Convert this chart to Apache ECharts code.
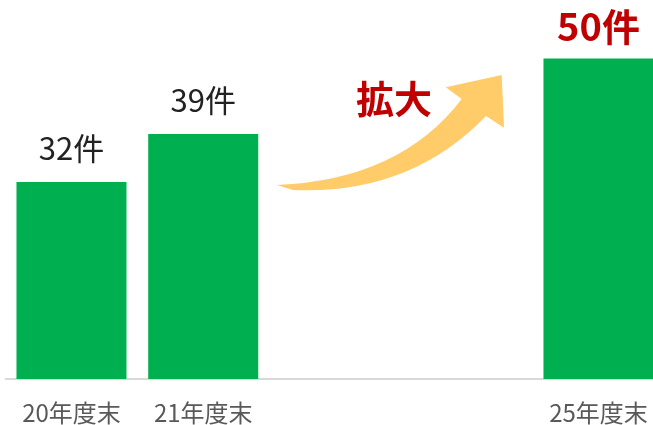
<!DOCTYPE html>
<html>
<head>
<meta charset="utf-8">
<script src="https://cdn.jsdelivr.net/npm/echarts@6/dist/echarts.min.js"></script>
<style>
html,body{margin:0;padding:0;background:#fff;}
#chart{width:653px;height:425px;}
</style>
</head>
<body>
<div id="chart"></div>
<script>
const categories = ['20年度末', '21年度末', '', '', '25年度末'];
const values = [32, 39, null, null, 50];
const labelTexts = ['32件', '39件', '', '', '50件'];
const highlightIndex = 4;
const arrowText = '拡大';

const ArrowShape = echarts.graphic.extendPath(
  'M 276.7 185 Q 400 180 461.7 99 L 445.7 87.3 L 501.7 75 L 504 127.7 L 486 116 Q 410 195 293 190 Z', {}
);
echarts.graphic.registerShape('growthArrow', ArrowShape);

const chart = echarts.init(document.getElementById('chart'), null, {renderer: 'canvas'});

const seriesData = values.map((v, i) => {
  if (v === null) return '-';
  const item = {value: v};
  if (i === highlightIndex) {
    item.label = {color: '#c00000', fontWeight: 'bold', fontSize: 38, distance: 13};
  }
  return item;
});

chart.setOption({
  animation: false,
  backgroundColor: '#ffffff',
  grid: {left: 5.6, top: 58.5, width: 658.75, height: 320.5, containLabel: false, outerBoundsMode: 'none'},
  xAxis: {
    type: 'category',
    data: categories,
    axisLine: {show: true, lineStyle: {color: '#d9d9d9', width: 2}},
    axisTick: {show: false},
    axisLabel: {color: '#595959', fontSize: 24, margin: 22, fontFamily: 'Noto Sans CJK JP', interval: 0}
  },
  yAxis: {
    type: 'value', min: 3.3, max: 50, show: false,
    splitLine: {show: false}
  },
  series: [{
    type: 'bar',
    data: seriesData,
    barCategoryGap: '16.5%',
    itemStyle: {color: '#00b050'},
    label: {
      show: true,
      position: 'top',
      distance: 18,
      fontSize: 31,
      color: '#222222',
      fontFamily: 'Noto Sans CJK JP',
      formatter: p => labelTexts[p.dataIndex]
    }
  }],
  graphic: [
    {
      type: 'growthArrow',
      style: {fill: '#ffcc69'}
    },
    {
      type: 'text',
      left: 356,
      top: 80,
      style: {text: arrowText, fill: '#c00000', font: 'bold 38px "Noto Sans CJK JP"'}
    }
  ]
});
</script>
</body>
</html>
